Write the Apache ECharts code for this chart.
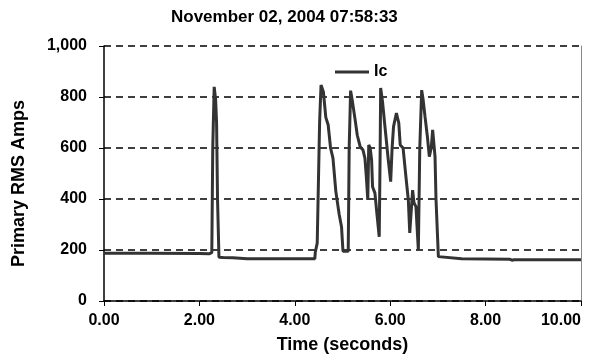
<!DOCTYPE html>
<html>
<head>
<meta charset="utf-8">
<script src="https://cdn.jsdelivr.net/npm/echarts@6/dist/echarts.min.js"></script>
<style>html,body{margin:0;padding:0;background:#fff;}#c{width:606px;height:363px;}</style>
</head>
<body>
<div id="c"></div>
<script>
var titleText = 'November 02, 2004 07:58:33';
var seriesName = 'Ic';
var timeSec = [0, 1.0, 2.0, 2.2, 2.24, 2.26, 2.28, 2.31, 2.34, 2.36, 2.38, 2.41, 2.5, 2.7, 3.0, 3.5, 4.0, 4.42, 4.43, 4.46, 4.47, 4.49, 4.52, 4.55, 4.60, 4.65, 4.70, 4.75, 4.80, 4.86, 4.93, 4.98, 5.01, 5.12, 5.14, 5.17, 5.21, 5.26, 5.31, 5.37, 5.43, 5.47, 5.50, 5.53, 5.55, 5.58, 5.61, 5.63, 5.68, 5.72, 5.77, 5.79, 5.80, 5.84, 5.89, 5.96, 6.01, 6.04, 6.07, 6.13, 6.18, 6.21, 6.27, 6.33, 6.38, 6.41, 6.47, 6.50, 6.54, 6.59, 6.62, 6.66, 6.69, 6.73, 6.78, 6.82, 6.86, 6.89, 6.94, 6.96, 7.01, 7.5, 8.0, 8.5, 8.55, 8.6, 9.0, 10.0];
var ampsIc = [187, 187, 186, 185, 181, 190, 600, 840, 790, 700, 400, 172, 171, 170, 166, 166, 166, 166, 192, 195, 227, 228, 700, 847, 820, 720, 690, 600, 560, 430, 340, 290, 195, 195, 600, 825, 780, 717, 650, 605, 592, 560, 487, 396, 612, 600, 553, 448, 423, 345, 252, 600, 835, 780, 684, 553, 468, 600, 684, 737, 698, 612, 600, 487, 396, 267, 435, 384, 370, 200, 600, 827, 790, 723, 644, 566, 600, 671, 566, 400, 174, 166, 165, 164, 160, 162, 162, 162];
var xTicks = [0, 2, 4, 6, 8, 10];
var yTicks = [0, 200, 400, 600, 800, 1000];

var data = timeSec.map(function (t, i) { return [t, ampsIc[i]]; });
var font = 'Liberation Sans';
var chart = echarts.init(document.getElementById('c'), null, {renderer: 'canvas'});
chart.setOption({
  animation: false,
  backgroundColor: '#fff',
  title: {
    text: titleText, left: 166, top: 4,
    textStyle: {fontFamily: font, fontWeight: 'bold', fontSize: 17, color: '#000'}
  },
  legend: {
    data: [seriesName], left: 330, top: 59, icon: 'rect', itemWidth: 34, itemHeight: 3, itemGap: 4,
    textStyle: {fontFamily: font, fontWeight: 'bold', fontSize: 16, color: '#000'}
  },
  grid: {left: 104, right: 25, top: 46, bottom: 62, containLabel: false},
  xAxis: {
    type: 'value', min: xTicks[0], max: xTicks[xTicks.length - 1], interval: 2,
    name: 'Time (seconds)', nameLocation: 'middle', nameGap: 35,
    nameTextStyle: {fontFamily: font, fontWeight: 'bold', fontSize: 18, color: '#000'},
    axisLine: {lineStyle: {color: '#000', width: 1.5}},
    axisTick: {show: true, length: 5, lineStyle: {color: '#000'}},
    axisLabel: {fontFamily: font, fontWeight: 'bold', fontSize: 16, color: '#000', margin: 12,
      alignMaxLabel: 'right',
      formatter: function (v) { return v.toFixed(2); }},
    splitLine: {show: false}
  },
  yAxis: [{
    type: 'value', min: yTicks[0], max: yTicks[yTicks.length - 1], interval: 200,
    name: 'Primary RMS Amps', nameLocation: 'middle', nameGap: 76,
    nameTextStyle: {fontFamily: font, fontWeight: 'bold', fontSize: 18, color: '#000', padding: [0, 20, 0, 0]},
    axisLine: {show: true, lineStyle: {color: '#000', width: 1.5}},
    axisTick: {show: true, length: 5, lineStyle: {color: '#000'}},
    axisLabel: {fontFamily: font, fontWeight: 'bold', fontSize: 16, color: '#000', margin: 17,
      formatter: function (v) { return v.toLocaleString('en-US'); }},
    splitLine: {show: true, lineStyle: {color: '#000', width: 1.5, type: [7, 5]}}
  }, {
    type: 'value', min: 0, max: 1000, position: 'right',
    axisLine: {show: true, lineStyle: {color: '#888', width: 1}},
    axisTick: {show: false}, axisLabel: {show: false}, splitLine: {show: false}
  }],
  series: [{
    name: seriesName, type: 'line', data: data, showSymbol: false, symbol: 'none',
    lineStyle: {color: '#333', width: 3}, itemStyle: {color: '#333'}
  }]
});
</script>
</body>
</html>
